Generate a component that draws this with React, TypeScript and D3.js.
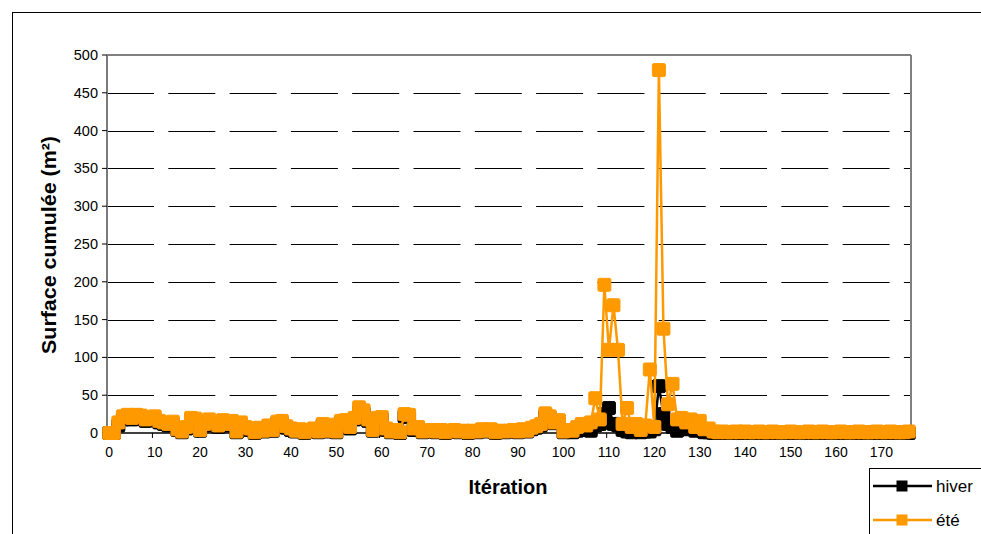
import React from "react";
import * as d3 from "d3";

// Iteration values 0..176
const iterations: number[] = d3.range(0, 177);

// "été" series (orange)
const ete: number[] = [
  0, 0, 14, 22, 24, 20, 24, 23, 18, 20,
  22, 16, 14, 12, 15, 5, 2, 8, 20, 19,
  4, 12, 18, 15, 10, 17, 12, 16, 2, 14,
  8, 6, 1, 7, 3, 10, 4, 15, 16, 9,
  6, 3, 5, 1, 4, 6, 2, 12, 3, 11,
  2, 16, 17, 8, 20, 34, 30, 18, 4, 20,
  21, 6, 2, 4, 1, 25, 24, 6, 8, 2,
  3, 4, 2, 4, 1, 3, 4, 2, 3, 1,
  3, 2, 5, 3, 5, 1, 3, 2, 3, 4,
  2, 5, 3, 7, 9, 12, 26, 22, 14, 17,
  2, 4, 3, 8, 12, 10, 14, 46, 18, 196,
  110, 169, 110, 12, 33, 8, 12, 4, 10, 84,
  8, 480, 138, 38, 65, 18, 20, 14, 18, 8,
  16, 5, 6, 2, 1, 2, 1, 1, 2, 1,
  2, 1, 1, 2, 1, 1, 2, 1, 1, 1,
  2, 1, 1, 1, 2, 1, 1, 2, 1, 1,
  1, 2, 1, 1, 1, 2, 1, 1, 1, 2,
  1, 1, 2, 1, 1, 1, 2,
];

// "hiver" series (black)
const hiver: number[] = [
  0, 0, 10, 18, 20, 18, 20, 19, 16, 18,
  18, 14, 12, 10, 12, 4, 1, 6, 17, 16,
  3, 10, 15, 13, 8, 14, 10, 14, 1, 12,
  6, 4, 0, 5, 2, 8, 3, 13, 13, 7,
  4, 2, 3, 0, 3, 4, 1, 10, 2, 9,
  1, 14, 15, 6, 18, 28, 26, 16, 3, 18,
  18, 4, 1, 3, 0, 22, 21, 4, 6, 1,
  2, 3, 1, 3, 0, 2, 3, 1, 2, 0,
  2, 1, 4, 2, 4, 0, 2, 1, 2, 3,
  1, 4, 2, 5, 7, 10, 22, 20, 13, 15,
  1, 2, 1, 3, 5, 4, 3, 10, 12, 25,
  33, 12, 10, 4, 2, 1, 3, 1, 2, 2,
  5, 62, 25, 12, 8, 3, 6, 5, 6, 3,
  4, 1, 1, 0, 0, 1, 0, 0, 1, 0,
  0, 0, 1, 0, 0, 0, 1, 0, 0, 0,
  1, 0, 0, 0, 0, 1, 0, 0, 0, 0,
  0, 1, 0, 0, 0, 0, 0, 1, 0, 0,
  0, 0, 0, 1, 0, 0, 0,
];

const yTicks: number[] = [0, 50, 100, 150, 200, 250, 300, 350, 400, 450, 500];
const xTickLabels: number[] = [0, 10, 20, 30, 40, 50, 60, 70, 80, 90, 100, 110, 120, 130, 140, 150, 160, 170];

const seriesNames: string[] = ["hiver", "été"];
const seriesColors: string[] = ["#000000", "#FF9900"];

const FONT = "'Liberation Sans', Arial, sans-serif";

export default function App() {
  const left = 107;
  const right = 911;
  const top = 55;
  const bottom = 433;

  const x = d3
    .scaleBand<number>()
    .domain(iterations)
    .range([left, right])
    .paddingInner(0)
    .paddingOuter(0);
  const bw = x.bandwidth();
  const cx = (i: number) => (x(i) as number) + bw / 2;
  const y = d3.scaleLinear().domain([0, 500]).range([bottom, top]);

  const line = d3
    .line<number>()
    .x((_, i) => cx(i))
    .y((d) => y(d));

  const series = [hiver, ete];
  const ms = 13;

  return (
    <svg
      width={981}
      height={534}
      style={{ position: "fixed", left: 0, top: 0, background: "#fff" }}
      fontFamily={FONT}
    >
      <rect x={0} y={0} width={981} height={534} fill="#fff" />
      {/* outer chart border */}
      <rect x={12.5} y={12.5} width={1200} height={800} fill="none" stroke="#000" strokeWidth={1} />

      {/* gridlines */}
      {yTicks
        .filter((t) => t > 0 && t < 500)
        .map((t) => (
          <line
            key={"g" + t}
            x1={left}
            x2={right}
            y1={Math.round(y(t)) + 0.5}
            y2={Math.round(y(t)) + 0.5}
            stroke="#000"
            strokeWidth={1}
            strokeDasharray="47 14.3"
          />
        ))}

      {/* plot border (top / right) */}
      <line x1={left} x2={right} y1={top} y2={top} stroke="#808080" strokeWidth={2} />
      <line x1={right} x2={right} y1={top} y2={bottom} stroke="#808080" strokeWidth={2} />

      {/* y axis */}
      <line x1={left} x2={left} y1={top} y2={bottom} stroke="#7a7a7a" strokeWidth={2} />
      {yTicks.map((t) => (
        <g key={"y" + t}>
          <line x1={left - 5} x2={left} y1={y(t)} y2={y(t)} stroke="#000" strokeWidth={1} />
          <text
            x={98}
            y={y(t) + 5}
            textAnchor="end"
            fontSize={14.5}
            fill="#000"
          >
            {t}
          </text>
        </g>
      ))}

      {/* x axis */}
      <line x1={left} x2={right} y1={bottom} y2={bottom} stroke="#000" strokeWidth={1.5} />
      {xTickLabels.map((t) => (
        <g key={"x" + t}>
          <line
            x1={(x(t) as number)}
            x2={(x(t) as number)}
            y1={bottom}
            y2={bottom + 5}
            stroke="#000"
            strokeWidth={1}
          />
          <text x={cx(t)} y={457} textAnchor="middle" fontSize={14} fill="#000">
            {t}
          </text>
        </g>
      ))}

      {/* series */}
      {series.map((s, si) => (
        <g key={"s" + si}>
          <path d={line(s) as string} fill="none" stroke={seriesColors[si]} strokeWidth={2.5} strokeLinejoin="round" />
          {s.map((v, i) => (
            <rect
              key={i}
              x={cx(i) - ms / 2}
              y={y(v) - ms / 2}
              width={ms}
              height={ms}
              rx={1.5}
              fill={seriesColors[si]}
              stroke={seriesColors[si]}
              strokeWidth={1}
            />
          ))}
        </g>
      ))}

      {/* axis titles */}
      <text
        transform="translate(56,245) rotate(-90)"
        textAnchor="middle"
        fontSize={20}
        fontWeight="bold"
        fill="#000"
        textLength={218}
        lengthAdjust="spacingAndGlyphs"
      >
        Surface cumulée (m²)
      </text>
      <text x={508} y={494} textAnchor="middle" fontSize={20} fontWeight="bold" fill="#000">
        Itération
      </text>

      {/* legend */}
      <rect x={869.5} y={468.5} width={200} height={100} fill="#fff" stroke="#000" strokeWidth={1} />
      {seriesNames.map((n, i) => {
        const ly = 486 + i * 34;
        return (
          <g key={"l" + n}>
            <line x1={873} x2={932} y1={ly} y2={ly} stroke={seriesColors[i]} strokeWidth={2.5} />
            <rect x={897} y={ly - 5} width={10} height={10} fill={seriesColors[i]} stroke={seriesColors[i]} />
            <text x={936} y={ly + 6} fontSize={17} fill="#000">
              {n}
            </text>
          </g>
        );
      })}
    </svg>
  );
}
